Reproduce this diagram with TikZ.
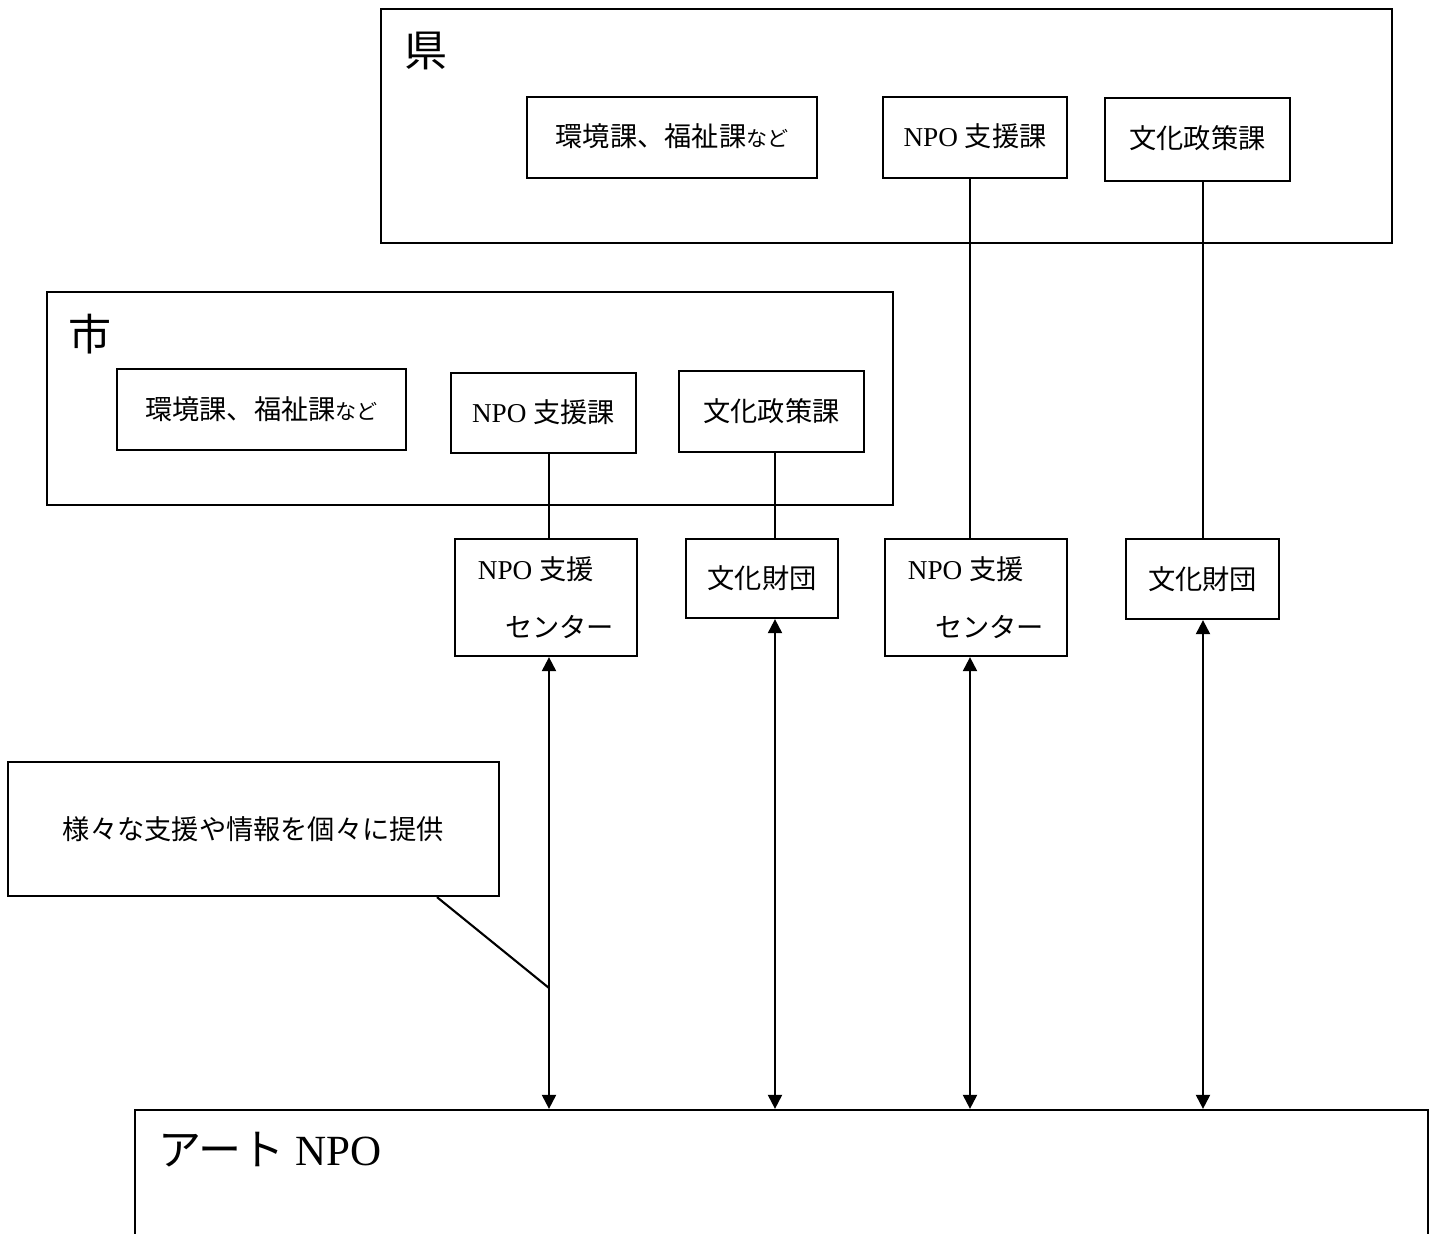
\documentclass[tikz,border=0pt]{standalone}
\usepackage{fontspec}
\setmainfont{Liberation Serif}
\newfontfamily\jp{Noto Sans CJK JP}
\usetikzlibrary{arrows.meta}
\tikzset{
	area/.style={draw, line width=0.9pt, inner sep=0pt},
	arealabel/.style={inner sep=0pt, anchor=west, font=\fontsize{24.5pt}{28pt}\selectfont},
	office/.style={draw, line width=1.3pt, inner sep=0pt, font=\fontsize{15.5pt}{18pt}\selectfont},
	link/.style={line width=1.2pt},
	both/.style={line width=1.2pt, {Triangle[length=0.28cm,width=0.28cm]}-{Triangle[length=0.28cm,width=0.28cm]}}
}
\newcommand{\nado}{{\fontsize{12pt}{14pt}\selectfont など}}
\begin{document}
\begin{tikzpicture}[x=0.02cm, y=-0.02cm]
	\clip (0,0) rectangle (1438,1234);
	\node[area, minimum width=20.22cm, minimum height=4.68cm] (ken) at (886.5,126) {};
	\node[arealabel] (kenlabel) at (404,51) {\jp 県};
	\node[office, minimum width=5.8cm, minimum height=1.62cm] (kenEnv) at (672,137.5) {\raisebox{3pt}{\jp 環境課、福祉課\nado}};
	\node[office, minimum width=3.68cm, minimum height=1.62cm] (kenNPO) at (975,137.5) {\raisebox{3pt}{NPO {\jp 支援課}}};
	\node[office, minimum width=3.7cm, minimum height=1.66cm] (kenCul) at (1197.5,139.5) {\raisebox{3pt}{\jp 文化政策課}};
	\node[area, minimum width=16.92cm, minimum height=4.26cm] (shi) at (470,398.5) {};
	\node[arealabel] (shilabel) at (68,334) {\jp 市};
	\node[office, minimum width=5.78cm, minimum height=1.62cm] (shiEnv) at (261.5,409.5) {\jp 環境課、福祉課\nado};
	\node[office, minimum width=3.7cm, minimum height=1.6cm] (shiNPO) at (543.5,413) {\raisebox{2pt}{NPO {\jp 支援課}}};
	\node[office, minimum width=3.7cm, minimum height=1.62cm] (shiCul) at (771.5,411.5) {\raisebox{2pt}{\jp 文化政策課}};
	\node[office, minimum width=3.64cm, minimum height=2.34cm, align=left] (cenA) at (546,597.5) {NPO {\jp 支援}\\[15pt]\hspace*{1em}{\jp センター}};
	\node[office, minimum width=3.04cm, minimum height=1.58cm] (zaiA) at (762,578.5) {\jp 文化財団};
	\node[office, minimum width=3.64cm, minimum height=2.34cm, align=left] (cenB) at (976,597.5) {NPO {\jp 支援}\\[15pt]\hspace*{1em}{\jp センター}};
	\node[office, minimum width=3.06cm, minimum height=1.6cm] (zaiB) at (1202.5,579) {\jp 文化財団};
	\node[office, minimum width=9.82cm, minimum height=2.68cm] (memo) at (253.5,829) {\jp 様々な支援や情報を個々に提供};
	\node[office, minimum width=25.86cm, minimum height=3.8cm] (art) at (781.5,1205) {};
	\node[arealabel] (artlabel) at (158,1150) {{\jp アート} NPO};
	\coordinate (laneA) at (549,0);
	\coordinate (laneB) at (775,0);
	\coordinate (laneC) at (970,0);
	\coordinate (laneD) at (1203,0);
	\coordinate (memoFoot) at (437,0);
	\coordinate (memoTip) at (549,988);
	\draw[link] (shiNPO.south -| laneA) -- (cenA.north -| laneA);
	\draw[link] (shiCul.south -| laneB) -- (zaiA.north -| laneB);
	\draw[link] (kenNPO.south -| laneC) -- (cenB.north -| laneC);
	\draw[link] (kenCul.south -| laneD) -- (zaiB.north -| laneD);
	\draw[both] (cenA.south -| laneA) -- (art.north -| laneA);
	\draw[both] (zaiA.south -| laneB) -- (art.north -| laneB);
	\draw[both] (cenB.south -| laneC) -- (art.north -| laneC);
	\draw[both] (zaiB.south -| laneD) -- (art.north -| laneD);
	\draw[link] (memo.south -| memoFoot) -- (memoTip);
\end{tikzpicture}
\end{document}
